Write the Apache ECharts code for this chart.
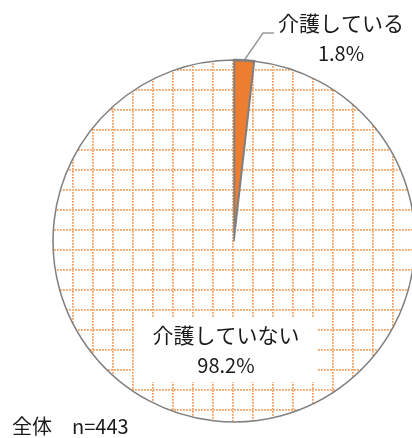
<!DOCTYPE html>
<html>
<head>
<meta charset="utf-8">
<script src="https://cdn.jsdelivr.net/npm/echarts@6/dist/echarts.min.js"></script>
<style>
html,body{margin:0;padding:0;background:#fff;}
#chart{width:412px;height:438px;}
</style>
</head>
<body>
<div id="chart"></div>
<script>
const categories = ['介護している', '介護していない'];
const values = [1.8, 98.2];
const footnote = '全体　n=443';

// dotted grid pattern tile
function makePattern() {
  const size = 60, step = 20;
  const c = document.createElement('canvas');
  c.width = size; c.height = size;
  const ctx = c.getContext('2d');
  ctx.fillStyle = '#ffffff';
  ctx.fillRect(0, 0, size, size);
  for (let k = 0; k < size / step; k++) {
    const vx = 12 + k * step;
    const hy = 9 + k * step;
    for (let t = 0; t < size; t += 3) {
      ctx.fillStyle = '#F8BD8F';
      ctx.fillRect(vx, t, 2, 2);
      ctx.fillRect(t, hy, 2, 2);
      ctx.fillStyle = '#F39B5A';
      ctx.fillRect(vx, t, 1, 1);
      ctx.fillRect(t, hy, 1, 1);
    }
  }
  return c;
}

const chart = echarts.init(document.getElementById('chart'), null, {renderer: 'canvas'});
const pattern = makePattern();

const rich = {
  n: {fontFamily: 'Noto Sans CJK JP', fontSize: 21, color: '#1a1a1a', lineHeight: 30, align: 'center'},
  p: {fontFamily: 'Noto Sans CJK JP', fontSize: 20, color: '#1a1a1a', lineHeight: 30, align: 'center'}
};

const option = {
  backgroundColor: '#ffffff',
  animation: false,
  title: {
    text: footnote,
    left: 12,
    top: 416,
    padding: 0,
    textStyle: {fontFamily: 'Noto Sans CJK JP', fontSize: 20, fontWeight: 'normal', color: '#1a1a1a', lineHeight: 20}
  },
  series: [{
    type: 'pie',
    center: [234, 241],
    radius: 181,
    startAngle: 90,
    clockwise: true,
    avoidLabelOverlap: false,
    label: {
      show: true,
      formatter: p => `{n|${p.name}}\n{p|${p.value.toFixed(1)}%}`,
      rich: rich
    },
    labelLine: {show: true, lineStyle: {color: '#9a9a9a', width: 1.5}},
    labelLayout: function (params) {
      if (params.dataIndex === 0) {
        const out = {x: 341, y: 38, align: 'center', verticalAlign: 'middle'};
        const pts = params.labelLinePoints;
        if (pts && pts.length) {
          const left = 341 - params.labelRect.width / 2;
          const yLine = 33;
          out.labelLinePoints = [pts[0].slice ? pts[0].slice() : [pts[0][0], pts[0][1]], [left - 15, yLine], [left - 4, yLine]];
        }
        return out;
      }
      return {x: 226, y: 350, align: 'center', verticalAlign: 'middle'};
    },
    data: [
      {
        name: categories[0], value: values[0],
        itemStyle: {color: '#ED7D31', borderColor: '#7f7f7f', borderWidth: 2.5}
      },
      {
        name: categories[1], value: values[1],
        itemStyle: {color: {image: pattern, repeat: 'repeat'}, borderColor: '#808080', borderWidth: 1.5},
        label: {backgroundColor: '#ffffff', padding: [2, 18, 2, 18]},
        labelLine: {show: false}
      }
    ]
  }]
};
chart.setOption(option);
</script>
</body>
</html>
